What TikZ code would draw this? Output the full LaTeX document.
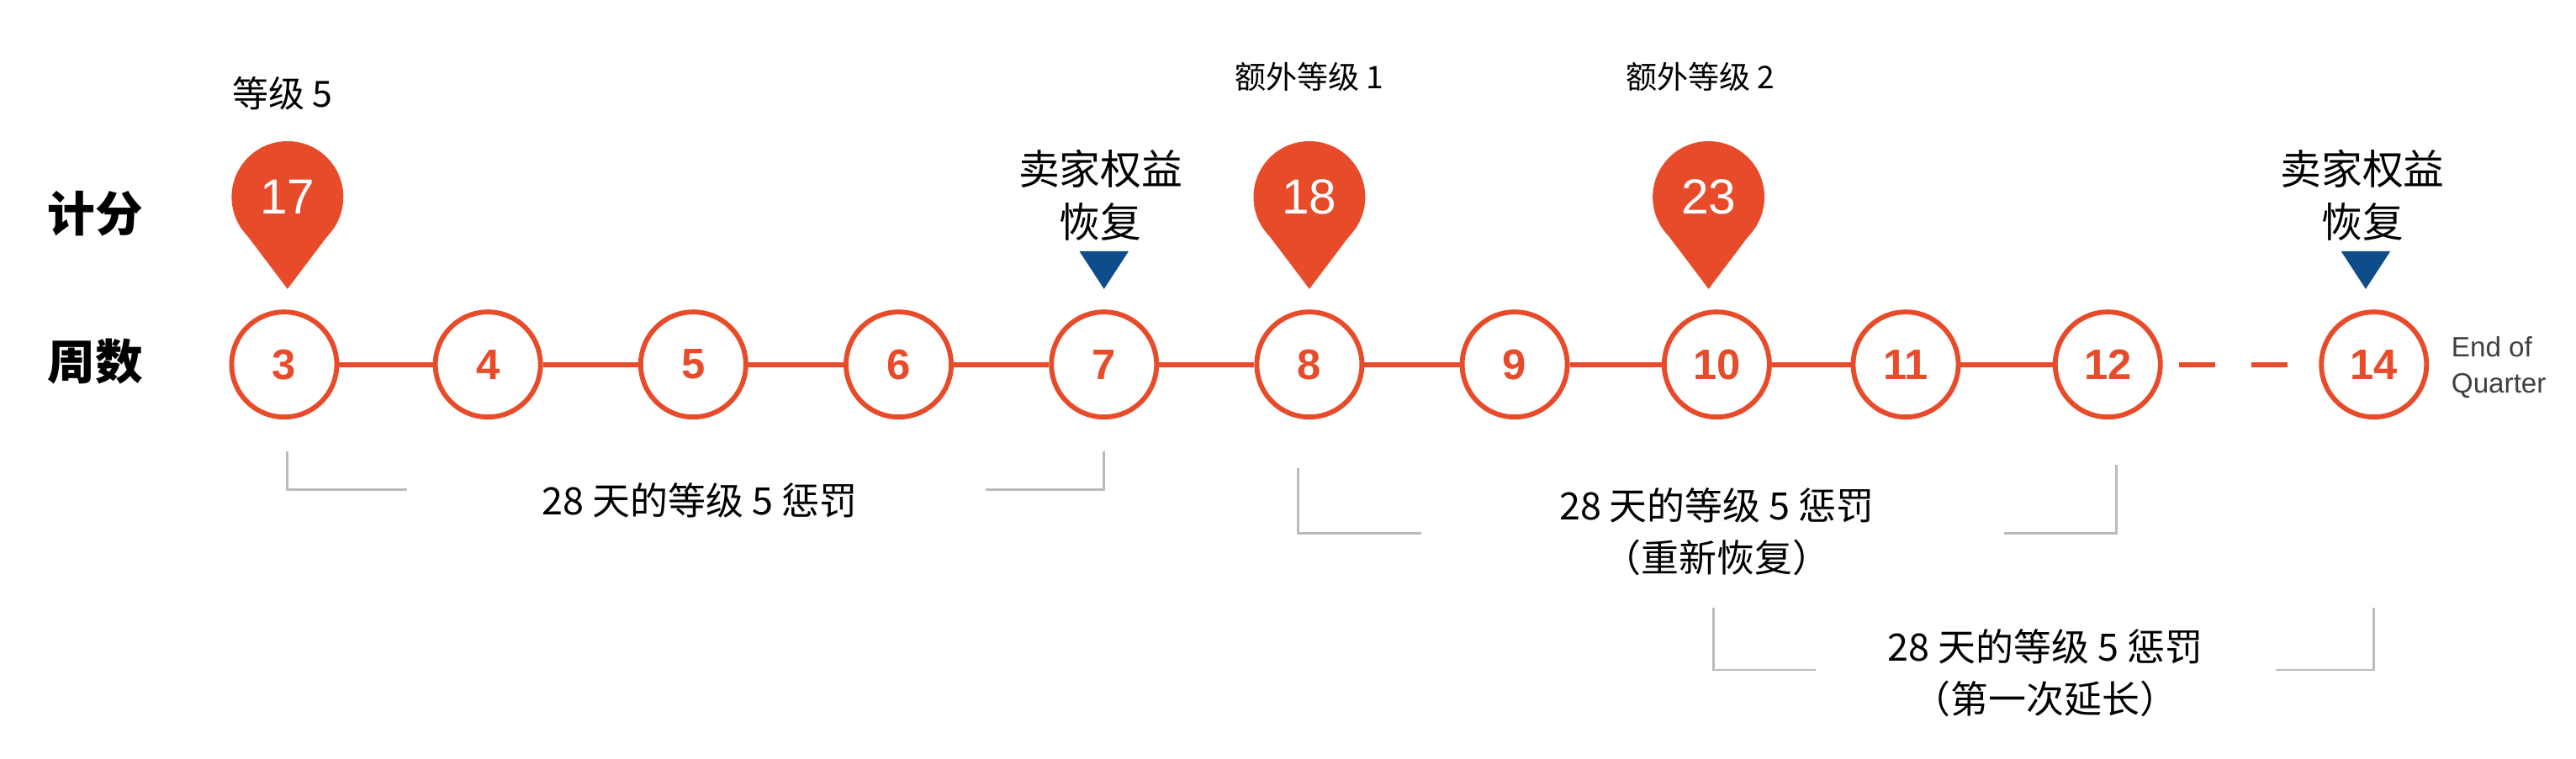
\documentclass[tikz,border=0pt]{standalone}
\usepackage{fontspec}
\setmainfont{Liberation Sans}
\newfontfamily\cjk{Noto Sans CJK SC}
\definecolor{org}{HTML}{E84B2A}
\definecolor{blu}{HTML}{0F4C8A}
\definecolor{gry}{HTML}{BBBBBB}
\begin{document}
\begin{tikzpicture}[x=1pt,y=-1pt,
  wk/.style={circle,draw=org,line width=3pt,fill=white,minimum size=64pt,inner sep=0pt,text=org,font=\fontsize{26}{26}\selectfont\bfseries},
  lnk/.style={org,line width=3pt},
  br/.style={gry,line width=1.5pt},
  txt/.style={font=\cjk\fontsize{23}{32}\selectfont,align=center},
  big/.style={font=\cjk\fontsize{29}{30}\selectfont\bfseries}]
\useasboundingbox (0,0) rectangle (1568,462);
\foreach \n/\x in {3/173,4/297,5/422,6/547,7/672,8/797,9/922,10/1045,11/1160,12/1283,14/1445}
  \node[wk] (w\n) at (\x,222) {\n};
\foreach \a/\b in {3/4,4/5,5/6,6/7,7/8,8/9,9/10,10/11,11/12}
  \draw[lnk] (w\a) -- (w\b);
\draw[lnk,dash pattern=on 22pt off 22pt,dash phase=-10pt] (w12) -- (w14);
\node[big] (jf) at (58,130) {计分};
\node[big] (zs) at (58,220) {周数};
% pins
\foreach \x/\v/\nm in {175/17/p17,797/18/p18,1040/23/p23}{
  \fill[org] (\x,120) circle (34);
  \fill[org] (\x-29.4,137) -- (\x,176) -- (\x+29.4,137) -- cycle;
  \node[text=white,font=\fontsize{30}{30}\selectfont] (\nm) at (\x,120) {\v};
}
\node[txt,font=\cjk\fontsize{22}{22}\selectfont] (l5) at (172,57) {等级 5};
\node[txt,font=\cjk\fontsize{19}{20}\selectfont] (e1) at (797,47) {额外等级 1};
\node[txt,font=\cjk\fontsize{19}{20}\selectfont] (e2) at (1035,47) {额外等级 2};
\node[txt,font=\cjk\fontsize{25}{32}\selectfont] (r7) at (670,119) {卖家权益\\恢复};
\node[txt,font=\cjk\fontsize{25}{32}\selectfont] (r14) at (1438,119) {卖家权益\\恢复};
\fill[blu] (657,153) -- (687,153) -- (672,176) -- cycle;
\fill[blu] (1425,153) -- (1455,153) -- (1440,176) -- cycle;
\node[align=left,text=black!75,font=\fontsize{17}{22}\selectfont] (eq) at (1521,224) {End of\\Quarter};
% brackets
\node[txt] (t1) at (426,305) {28 天的等级 5 惩罚};
\draw[br] (175,275) -- (175,298) -- (248,298);
\draw[br] (600,298) -- (672,298) -- (672,275);
\node[txt] (t2) at (1045,324) {28 天的等级 5 惩罚\\（重新恢复）};
\draw[br] (790,285) -- (790,325) -- (865,325);
\draw[br] (1220,325) -- (1288,325) -- (1288,283);
\node[txt] (t3) at (1245,410) {28 天的等级 5 惩罚\\（第一次延长）};
\draw[br] (1043,370) -- (1043,408) -- (1105,408);
\draw[br] (1385,408) -- (1445,408) -- (1445,370);
\end{tikzpicture}
\end{document}
